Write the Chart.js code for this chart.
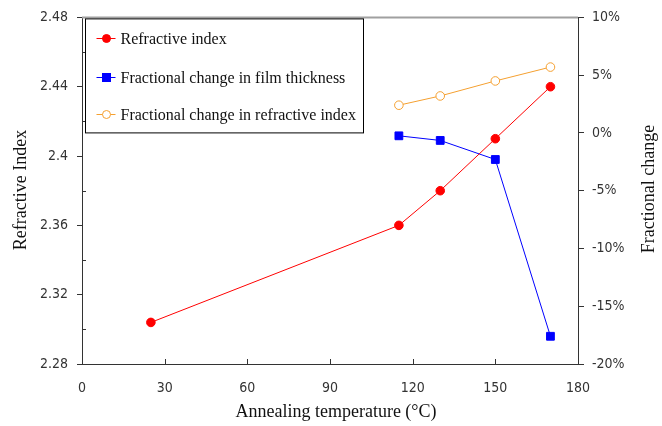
<!DOCTYPE html>
<html>
<head>
<meta charset="utf-8">
<script src="https://cdn.jsdelivr.net/npm/chart.js@4.4.0/dist/chart.umd.min.js"></script>
<style>
  html, body { margin: 0; padding: 0; background: #fff; }
  #wrap { width: 662px; height: 426px; position: relative; }
</style>
</head>
<body>
<div id="wrap"><canvas id="chart" width="662" height="426"></canvas></div>
<script>
// annealing temperatures (C)
var tempsRI = [25, 115, 130, 150, 170];
var refractiveIndex = [2.304, 2.36, 2.38, 2.41, 2.44];

var tempsChange = [115, 130, 150, 170];
var thicknessChange = [-0.25, -0.65, -2.3, -17.6];   // %
var indexChange = [2.4, 3.2, 4.5, 5.7];              // %

var xTicks = [0, 30, 60, 90, 120, 150, 180];
var leftTicks = [2.28, 2.32, 2.36, 2.4, 2.44, 2.48];
var rightTicks = [-20, -15, -10, -5, 0, 5, 10];

var xTitle = 'Annealing temperature (\u00B0C)';
var leftTitle = 'Refractive Index';
var rightTitle = 'Fractional change';

function pts(xs, ys) {
    var out = [];
    for (var i = 0; i < xs.length; i++) out.push({x: xs[i], y: ys[i]});
    return out;
}

var tickFont = {family: "'DejaVu Sans Condensed', 'DejaVu Sans', sans-serif", size: 14};
var serif = "'Liberation Serif', 'DejaVu Serif', serif";

// frame, inward ticks, axis titles and the boxed legend
var extras = {
    id: 'extras',
    afterDatasetsDraw: function(chart) {
        var ctx = chart.ctx, a = chart.chartArea;
        var x = chart.scales.x, y = chart.scales.y;
        ctx.save();
        // top border
        ctx.strokeStyle = '#a0a0a0';
        ctx.lineWidth = 2;
        ctx.beginPath();
        ctx.moveTo(a.left, a.top);
        ctx.lineTo(a.right, a.top);
        ctx.stroke();
        // x ticks pointing up
        ctx.strokeStyle = '#333';
        ctx.lineWidth = 1;
        ctx.beginPath();
        for (var i = 1; i < xTicks.length - 1; i++) {
            var px = Math.round(x.getPixelForValue(xTicks[i])) + 0.5;
            ctx.moveTo(px, a.bottom);
            ctx.lineTo(px, a.bottom - 5);
        }
        // minor ticks on the left axis
        for (var j = 0; j < leftTicks.length - 1; j++) {
            var v = (leftTicks[j] + leftTicks[j + 1]) / 2;
            var py = Math.round(y.getPixelForValue(v)) + 0.5;
            ctx.moveTo(a.left, py);
            ctx.lineTo(a.left + 4, py);
        }
        ctx.stroke();

        // axis titles
        ctx.fillStyle = '#111';
        ctx.font = '18px ' + serif;
        ctx.textAlign = 'center';
        ctx.textBaseline = 'middle';
        ctx.fillText(xTitle, 336, 412);
        ctx.save();
        ctx.translate(21, 190);
        ctx.rotate(-Math.PI / 2);
        ctx.fillText(leftTitle, 0, 0);
        ctx.restore();
        ctx.save();
        ctx.translate(649, 189);
        ctx.rotate(-Math.PI / 2);
        ctx.fillText(rightTitle, 0, 0);
        ctx.restore();

        // legend box
        var bx = a.left + 3.5, by = a.top + 1.5, bw = 278, bh = 114;
        ctx.fillStyle = '#fff';
        ctx.fillRect(bx, by, bw, bh);
        ctx.strokeStyle = '#000';
        ctx.lineWidth = 1;
        ctx.strokeRect(bx, by, bw, bh);
        var rows = [by + 19, by + 58, by + 95];
        var ds = chart.data.datasets;
        ctx.font = '16px ' + serif;
        ctx.textAlign = 'left';
        ctx.textBaseline = 'middle';
        for (var k = 0; k < ds.length; k++) {
            var ry = Math.round(rows[k]) + 0.5;
            ctx.strokeStyle = ds[k].borderColor;
            ctx.beginPath();
            ctx.moveTo(bx + 11, ry);
            ctx.lineTo(bx + 30, ry);
            ctx.stroke();
            var cx = bx + 21;
            ctx.fillStyle = ds[k].pointBackgroundColor;
            ctx.beginPath();
            if (ds[k].pointStyle === 'rect') {
                ctx.fillRect(cx - 4.5, ry - 4.5, 9, 9);
            } else {
                ctx.arc(cx, ry, 4, 0, Math.PI * 2);
                ctx.fill();
                ctx.stroke();
            }
            ctx.fillStyle = '#111';
            ctx.fillText(ds[k].label, bx + 35, ry + 1);
        }
        ctx.restore();
    }
};

new Chart(document.getElementById('chart').getContext('2d'), {
    type: 'line',
    data: {
        datasets: [{
            label: 'Refractive index',
            data: pts(tempsRI, refractiveIndex),
            yAxisID: 'y',
            borderColor: '#ff0000',
            backgroundColor: '#ff0000',
            pointBackgroundColor: '#ff0000',
            pointStyle: 'circle',
            pointRadius: 4.3,
            borderWidth: 1
        }, {
            label: 'Fractional change in film thickness',
            data: pts(tempsChange, thicknessChange),
            yAxisID: 'y1',
            borderColor: '#0000ff',
            backgroundColor: '#0000ff',
            pointBackgroundColor: '#0000ff',
            pointStyle: 'rect',
            pointRadius: 5.5,
            borderWidth: 1
        }, {
            label: 'Fractional change in refractive index',
            data: pts(tempsChange, indexChange),
            yAxisID: 'y1',
            borderColor: '#f5a030',
            backgroundColor: '#ffffff',
            pointBackgroundColor: '#ffffff',
            pointStyle: 'circle',
            pointRadius: 4.3,
            borderWidth: 1
        }]
    },
    options: {
        responsive: false,
        animation: false,
        layout: {padding: {top: 12, right: 0, left: 0, bottom: 0}},
        plugins: {legend: {display: false}, tooltip: {enabled: false}},
        scales: {
            x: {
                type: 'linear',
                min: 0, max: 180,
                afterBuildTicks: function(s) { s.ticks = xTicks.map(function(v){ return {value: v}; }); },
                afterFit: function(s) { s.height = 426 - 364; },
                grid: {drawOnChartArea: false, drawTicks: false},
                border: {color: '#333', width: 1},
                ticks: {font: tickFont, color: '#333', padding: 16}
            },
            y: {
                position: 'left',
                min: 2.28, max: 2.48,
                afterBuildTicks: function(s) { s.ticks = leftTicks.map(function(v){ return {value: v}; }); },
                afterFit: function(s) { s.width = 82; },
                grid: {drawOnChartArea: false, tickLength: 5, color: '#333'},
                border: {color: '#333', width: 1},
                ticks: {font: tickFont, color: '#333', padding: 9,
                    callback: function(v) { return String(Number(v.toFixed(2))); }}
            },
            y1: {
                position: 'right',
                min: -20, max: 10,
                afterBuildTicks: function(s) { s.ticks = rightTicks.map(function(v){ return {value: v}; }); },
                afterFit: function(s) { s.width = 662 - 578; },
                grid: {drawOnChartArea: false, tickLength: 6, color: '#333'},
                border: {color: '#333', width: 1},
                ticks: {font: tickFont, color: '#333', padding: 8,
                    callback: function(v) { return v + '%'; }}
            }
        }
    },
    plugins: [extras]
});
</script>
</body>
</html>
